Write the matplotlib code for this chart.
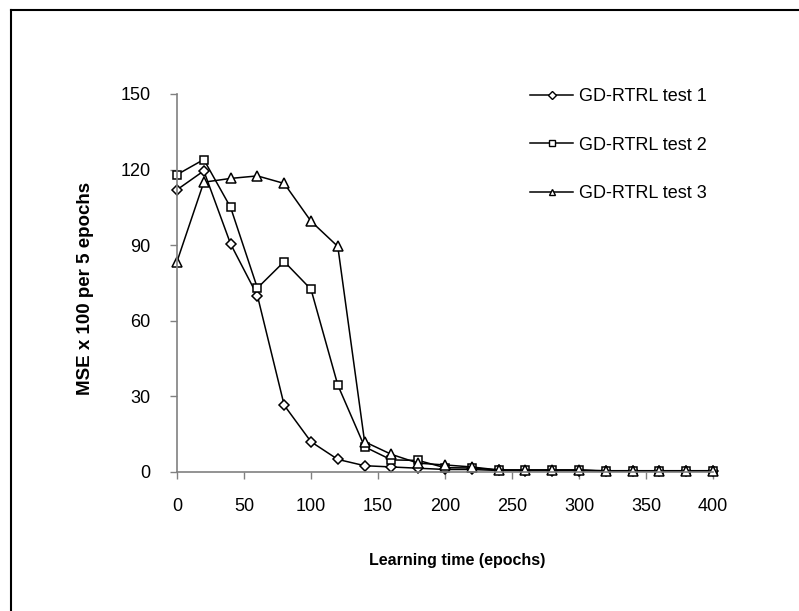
import matplotlib
matplotlib.use("Agg")
import matplotlib.pyplot as plt
from matplotlib.lines import Line2D

plt.rcParams['font.family'] = ['Liberation Sans', 'DejaVu Sans']

epochs = [0, 20, 40, 60, 80, 100, 120, 140, 160, 180, 200, 220, 240, 260, 280, 300, 320, 340, 360, 380, 400]
test1 = [112, 119.5, 90.5, 70, 26.5, 12, 5, 2.5, 2, 1.5, 1, 1, 0.6, 0.5, 0.5, 0.5, 0.5, 0.5, 0.5, 0.5, 0.5]
test2 = [118, 124, 105, 73, 83.5, 72.5, 34.5, 10, 4.8, 4.6, 1.7, 1.6, 0.8, 0.8, 0.8, 0.8, 0.5, 0.5, 0.5, 0.5, 0.5]
test3 = [83.5, 115, 116.5, 117.5, 114.5, 99.5, 89.5, 12, 7, 3.5, 2.8, 2, 0.8, 0.8, 0.8, 0.8, 0.3, 0.3, 0.3, 0.3, 0.3]
labels = ["GD-RTRL test 1", "GD-RTRL test 2", "GD-RTRL test 3"]
markers = ["D", "s", "^"]
xticks = [0, 50, 100, 150, 200, 250, 300, 350, 400]
yticks = [0, 30, 60, 90, 120, 150]

fig = plt.figure(figsize=(7.99, 6.11), dpi=100)
ax = fig.add_axes([177/799, 1 - 472/611, (713 - 177)/799, (472 - 94)/611])

series = [test1, test2, test3]
msizes = [5.5, 6, 6.5]
for ys, m, lab, ms in zip(series, markers, labels, msizes):
    ax.plot(epochs, ys, color='black', lw=1.1, marker=m, markersize=ms,
            markerfacecolor='white', markeredgecolor='black', markeredgewidth=1.1,
            label=lab, clip_on=False)

ax.set_xlim(0, 400)
ax.set_ylim(0, 150)
ax.set_xticks(xticks)
ax.set_yticks(yticks)
ax.tick_params(axis='both', direction='out', length=5, width=1, color='#808080',
               labelsize=13)
ax.tick_params(axis='y', pad=14)
ax.tick_params(axis='x', pad=14)
for s in ['top', 'right']:
    ax.spines[s].set_visible(False)
ax.spines['left'].set_color('#808080')
ax.spines['bottom'].set_color('#808080')
ax.spines['left'].set_linewidth(1.2)
ax.spines['bottom'].set_linewidth(1.2)

fig.text(86/799, 1 - 288/611, "MSE x 100 per 5 epochs", rotation=90, ha='center', va='center',
         fontsize=13.5, fontweight='bold')
fig.text(457/799, 1 - 560/611, "Learning time (epochs)", ha='center', va='center',
         fontsize=11.5, fontweight='bold')

handles = [Line2D([0], [0], color='black', lw=1.1, marker=m, markersize=4.5,
                  markerfacecolor='white', markeredgecolor='black')
           for m in markers]
fig.legend(handles, labels, loc='upper left', bbox_to_anchor=(521/799, 1 - 79/611),
           frameon=False, fontsize=13, handlelength=2.4, handletextpad=0.3,
           labelspacing=1.75, borderpad=0)

# outer frame (top and left only visible)
fig.add_artist(Line2D([11/799, 1], [1 - 10/611, 1 - 10/611], color='black', lw=1.5,
                      transform=fig.transFigure))
fig.add_artist(Line2D([11/799, 11/799], [0, 1 - 10/611], color='black', lw=1.5,
                      transform=fig.transFigure))

fig.savefig("out.png", dpi=100)
